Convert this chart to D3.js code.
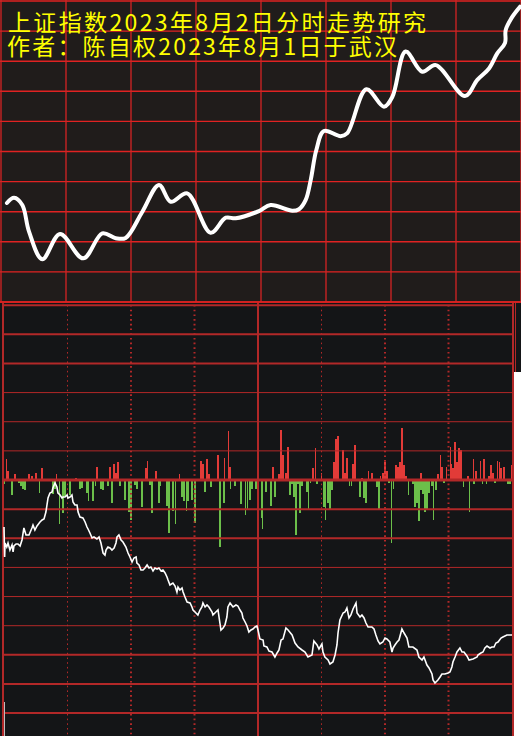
<!DOCTYPE html>
<html><head><meta charset="utf-8">
<script src="https://cdn.jsdelivr.net/npm/d3@7"></script>
<style>html,body{margin:0;padding:0;background:#fff;}svg{display:block;}</style>
</head><body>
<svg id="c" width="521" height="736"></svg>
<script>
// ---------- DATA ----------
const titleLines = ["上证指数2023年8月2日分时走势研究", "作者：陈自权2023年8月1日于武汉"];

// top panel: hand-drawn trend, [minute, level in grid units]
const trendSketch = [
 [3.2,3.29],[6.5,3.46],[10.3,3.22],[13.4,2.34],[19.5,1.42],[27.7,2.26],[38.4,1.45],[47.2,2.28],
 [53.4,2.12],[58.0,2.13],[65.7,3.0],[73.4,3.89],[78.8,3.33],[86.4,3.61],[97.2,2.30],[104.2,2.80],
 [108.8,2.78],[119.5,3.02],[124.9,3.22],[134.9,3.03],[138.0,3.08],[141.1,3.39],[143.4,4.05],
 [146.0,5.05],[149.5,5.68],[157.2,5.51],[160.3,5.61],[169.1,7.07],[177.2,6.49],[181.1,6.82],
 [187.2,8.32],[194.9,7.65],[201.1,7.87],[214.6,6.84],[220.3,7.38],[225.7,7.76],[229.5,8.26],
 [233.1,8.61],[233.4,9.04],[236.5,9.48],[240,9.81]
];

// bottom panel: flow bars [minute, value]
const flowUp = [[2,9],[5,6],[12,6],[13,4],[15,7],[18,12],[34,2],[44,13],[50,13],[52,16],[53,7],[54,18],
 [67,12],[72,9],[93,19],[94,16],[96,21],[97,6],[101,25],[107,13],[127,13],[130,6],[131,50],[132,25],
 [133,7],[134,33],[146,12],[156,18],[157,41],[158,44],[160,30],[161,7],[162,22],[165,16],[166,35],
 [169,2],[174,7],[179,7],[180,18],[181,9],[185,15],[186,13],[187,18],[188,52],[189,15],[190,4],
 [197,7],[205,6],[207,13],[211,16],[212,12],[213,38],[214,18],[215,32],[216,30],[219,4],[223,9],
 [227,21],[229,4],[230,15],[231,7],[235,12],[236,13],[240,15]];
const flowUpThin = [[1,21],[25,6],[68,19],[83,6],[104,22],[106,49],[147,32],[150,7],[172,9],[178,4],
 [206,25],[209,13],[211,33],[222,21],[225,19],[233,19],[234,18]];
const flowDown = [[0,4],[4,15],[7,3],[8,6],[9,9],[10,10],[23,14],[24,9],[28,33],[29,16],[31,15],[36,9],
 [37,8],[39,13],[42,21],[46,9],[47,10],[49,6],[51,23],[55,6],[57,20],[59,32],[60,40],[62,5],[63,9],
 [65,27],[69,5],[70,33],[73,23],[77,26],[78,53],[80,31],[84,17],[85,21],[87,21],[89,20],[90,43],
 [95,12],[98,7],[102,67],[104,23],[109,6],[112,24],[116,20],[117,9],[119,9],[120,36],[122,38],
 [124,12],[126,26],[128,17],[135,15],[136,4],[137,17],[138,55],[139,4],[140,33],[141,6],[143,12],
 [148,4],[151,27],[153,23],[154,30],[155,10],[168,17],[170,18],[171,23],[176,7],[177,29],[182,3],
 [193,4],[194,27],[195,23],[196,41],[197,10],[198,14],[199,32],[200,30],[201,13],[202,6],[204,10],
 [208,3],[222,4],[232,3],[238,4],[239,4]];
const flowDownThin = [[17,13],[26,44],[40,21],[43,6],[74,6],[81,44],[86,31],[107,9],[114,35],[115,29],
 [122,49],[144,30],[145,3],[152,40],[163,6],[164,6],[183,63],[184,9],[191,15],[203,40],[217,7],
 [220,32],[226,4],[228,4]];

// bottom panel: white jagged line [minute, value]
const flowLine = [[0,-47],[0.3,-77],[0.5,-63],[1.3,-67],[1.9,-63],[2.8,-70],[3.8,-65],[4.3,-72],[4.7,-66],
 [5.7,-64],[6.6,-64],[7.6,-66],[8.5,-60],[9.4,-48],[10.4,-55],[11.8,-55],[13.2,-48],[13.7,-45],[14.6,-50],
 [15.6,-46],[17.0,-42],[18.0,-40],[18.9,-39],[19.8,-32],[20.8,-18],[21.7,-13],[22.7,-12],[23.1,-8],
 [24.1,-3],[25.0,-7],[25.5,-13],[26.5,-15],[27.4,-18],[27.9,-17],[28.8,-17],[29.8,-15],[30.2,-18],
 [31.2,-17],[32.1,-15],[32.6,-22],[33.5,-25],[34.5,-25],[35.0,-32],[35.9,-37],[37.3,-38],[38.3,-42],
 [39.2,-47],[39.7,-49],[40.6,-53],[41.6,-58],[42.5,-57],[43.9,-59],[44.9,-57],[45.8,-63],[46.8,-73],
 [47.7,-75],[48.2,-70],[49.1,-67],[50.1,-68],[51.0,-70],[52.0,-68],[52.9,-63],[53.4,-57],[54.3,-55],
 [55.3,-60],[56.2,-62],[57.6,-67],[58.6,-73],[59.5,-77],[60.5,-82],[61.4,-78],[62.4,-77],[62.8,-83],
 [63.8,-85],[64.7,-90],[65.7,-90],[66.6,-88],[67.6,-85],[68.5,-88],[69.4,-87],[70.4,-91],[71.3,-88],
 [72.3,-89],[73.2,-88],[74.2,-91],[75.1,-90],[76.1,-93],[77.0,-97],[77.5,-100],[78.4,-105],[79.8,-103],
 [80.8,-106],[81.7,-112],[82.2,-107],[83.1,-110],[84.1,-108],[84.6,-112],[85.5,-117],[86.5,-122],
 [87.9,-123],[88.8,-127],[89.3,-130],[90.7,-133],[91.6,-135],[92.6,-130],[93.5,-127],[94.0,-123],
 [95.0,-127],[95.9,-125],[96.8,-127],[98.3,-132],[98.7,-135],[100.1,-132],[101.1,-130],[102.0,-143],
 [102.5,-150],[103.5,-148],[104.4,-145],[105.3,-137],[105.8,-127],[106.8,-123],[108.2,-127],[109.6,-125],
 [110.5,-126],[111.5,-130],[112.4,-133],[112.9,-138],[113.9,-142],[114.8,-146],[115.7,-152],[116.7,-150],
 [117.6,-149],[118.6,-147],[119.5,-146],[120.0,-150],[120.9,-159],[122.4,-160],[122.8,-166],[124.2,-167],
 [125.2,-171],[126.6,-172],[128.0,-177],[129.0,-173],[129.9,-170],[130.9,-160],[131.8,-159],[133.2,-148],
 [134.2,-150],[136.1,-155],[137.5,-163],[138.9,-167],[140.8,-170],[142.2,-172],[143.6,-177],[145.5,-175],
 [146.4,-161],[147.9,-165],[148.8,-169],[150.2,-164],[150.7,-172],[151.6,-177],[153.1,-180],[154.0,-184],
 [155.4,-182],[156.4,-175],[157.3,-165],[157.8,-153],[158.7,-140],[160.2,-133],[161.1,-132],[162.0,-128],
 [163.0,-138],[163.9,-135],[164.9,-129],[166.3,-123],[166.8,-133],[168.2,-137],[169.1,-135],[170.1,-138],
 [171.0,-143],[172.0,-147],[173.8,-147],[174.8,-149],[175.7,-155],[176.7,-161],[177.6,-164],[179.0,-162],
 [180.0,-158],[180.9,-159],[182.3,-162],[183.3,-172],[183.8,-168],[184.7,-165],[185.7,-162],[186.6,-160],
 [188.0,-149],[189.0,-153],[190.4,-158],[191.3,-167],[193.2,-167],[195.1,-170],[196.0,-177],[197.5,-180],
 [198.4,-177],[199.8,-185],[200.8,-188],[202.2,-194],[202.7,-200],[203.6,-203],[205.0,-200],[206.0,-197],
 [206.9,-194],[208.3,-194],[209.8,-193],[210.7,-192],[211.6,-187],[212.1,-182],[213.1,-177],[214.0,-172],
 [215.4,-168],[216.4,-172],[217.3,-172],[218.7,-176],[219.7,-180],[221.6,-179],[223.5,-177],[223.9,-175],
 [225.3,-173],[226.3,-172],[227.2,-168],[228.2,-166],[229.6,-168],[230.5,-167],[231.5,-167],[232.4,-163],
 [233.4,-162],[234.8,-158],[235.7,-157],[237.6,-155],[240.0,-155]];

const sessionMinutes = [0,30,60,90,120,150,180,210,240];

// ---------- DRAW ----------
const svg = d3.select("#c");
const W = 521, H = 736;
const topH = 302, botTop = 303;

// top panel
svg.append("rect").attr("x",0).attr("y",0).attr("width",W).attr("height",topH+1).attr("fill","#201c1b");
const xT = d3.scaleLinear().domain([0,240]).range([0,520]);
const yT = d3.scaleLinear().domain([0,10]).range([topH,1]);
const gT = svg.append("g");
gT.selectAll("line.h").data(d3.range(0,11)).join("line")
  .attr("x1",0).attr("x2",W).attr("y1",d=>yT(d)).attr("y2",d=>yT(d))
  .attr("stroke","#e02222").attr("stroke-width",1.4);
gT.selectAll("line.v").data(sessionMinutes).join("line")
  .attr("x1",d=>xT(d)+1).attr("x2",d=>xT(d)+1).attr("y1",0).attr("y2",topH)
  .attr("stroke","#d42424").attr("stroke-width",1.3);
gT.append("path").datum(trendSketch)
  .attr("d", d3.line().x(d=>xT(d[0])).y(d=>yT(d[1])).curve(d3.curveCatmullRom.alpha(0.5)))
  .attr("fill","none").attr("stroke","#ffffff").attr("stroke-width",4).attr("stroke-linecap","round").attr("stroke-linejoin","round");

// titles
const tl = [{x:8,y:31,len:418},{x:7,y:55,len:390}];
svg.selectAll("text.t").data(titleLines).join("text")
  .attr("x",(d,i)=>tl[i].x).attr("y",(d,i)=>tl[i].y)
  .attr("textLength",(d,i)=>tl[i].len).attr("lengthAdjust","spacing")
  .attr("font-family","'Noto Sans CJK SC','Noto Sans',sans-serif").attr("font-size",23)
  .attr("fill","#ffff00").text(d=>d);

// bottom panel
svg.append("rect").attr("x",0).attr("y",botTop).attr("width",W).attr("height",H-botTop).attr("fill","#141517");
const xB = d3.scaleLinear().domain([0,240]).range([4,512]);
const rowStep = 29.14;
const yB = d3.scaleLinear().domain([-256,175]).range([736,305]);
const gridRed = "#b22828";
const gB = svg.append("g");

// bars
function bars(data, up, color, w){
  gB.append("g").attr("shape-rendering","crispEdges").selectAll("rect").data(data).join("rect")
    .attr("x",d=>Math.round(xB(d[0])-w/2)).attr("width",w)
    .attr("y",d=> Math.round(up ? yB(d[1]) : yB(0)))
    .attr("height",d=> Math.round(Math.abs(yB(0)-yB(d[1]))))
    .attr("fill",color);
}
bars(flowUp,true,"#e23b38",2);
bars(flowUpThin,true,"#e23b38",1);
bars(flowDown,false,"#6cbf4a",2);
bars(flowDownThin,false,"#6cbf4a",1);

// horizontal grid
const rows = d3.range(-8,7);
gB.selectAll("line.h").data(rows).join("line")
  .attr("x1",3).attr("x2",514).attr("y1",d=>yB(d*rowStep)).attr("y2",d=>yB(d*rowStep))
  .attr("stroke",gridRed)
  .attr("stroke-width",d=> d===0 ? 3 : (Math.floor((d+8)/3)%2===0 ? 2 : 1));

// dotted verticals
const dotted = [30,60,90,150,180,210];
gB.selectAll("line.d").data(dotted).join("line")
  .attr("x1",d=>xB(d)).attr("x2",d=>xB(d)).attr("y1",botTop+2).attr("y2",H)
  .attr("stroke",gridRed)
  .attr("stroke-width",d=> (d===30||d===150) ? 1 : 2)
  .attr("stroke-dasharray","1.6 3.1");
// solid verticals
gB.append("line").attr("x1",xB(120)).attr("x2",xB(120)).attr("y1",botTop).attr("y2",H)
  .attr("stroke",gridRed).attr("stroke-width",2);
gB.append("line").attr("x1",xB(0)-1).attr("x2",xB(0)-1).attr("y1",botTop).attr("y2",H)
  .attr("stroke",gridRed).attr("stroke-width",2);
gB.append("line").attr("x1",xB(240)+1).attr("x2",xB(240)+1).attr("y1",botTop).attr("y2",H)
  .attr("stroke",gridRed).attr("stroke-width",2);
gB.append("line").attr("x1",515.5).attr("x2",515.5).attr("y1",botTop).attr("y2",372)
  .attr("stroke",gridRed).attr("stroke-width",1);
svg.append("rect").attr("x",514).attr("y",372).attr("width",7).attr("height",H-372).attr("fill","#ffffff");
gB.append("line").attr("x1",4.5).attr("x2",4.5).attr("y1",702).attr("y2",H)
  .attr("stroke","#bdbdbd").attr("stroke-width",1);

// white flow line
gB.append("path").datum(flowLine)
  .attr("d", d3.line().x(d=>xB(d[0])).y(d=>yB(d[1])))
  .attr("fill","none").attr("stroke","#ffffff").attr("stroke-width",1.6).attr("stroke-linejoin","miter");

// top panel bottom border (bright)
svg.append("line").attr("x1",0).attr("x2",W).attr("y1",topH).attr("y2",topH).attr("stroke","#e02222").attr("stroke-width",1.5);
</script>
</body></html>
